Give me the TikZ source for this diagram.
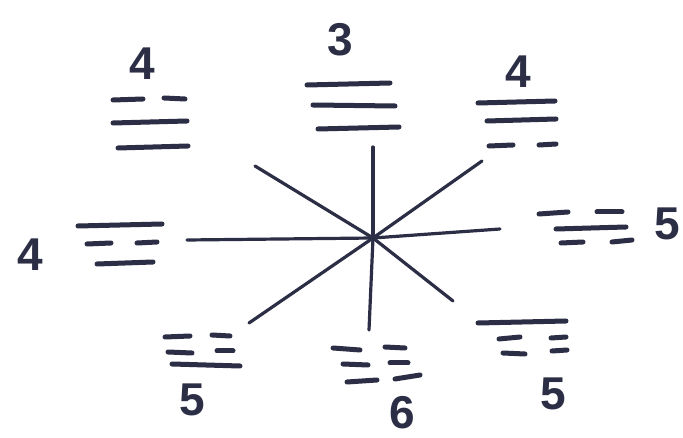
\documentclass[tikz,border=0pt]{standalone}
\usepackage{fontspec}
\setmainfont{Liberation Sans}
\begin{document}
\begin{tikzpicture}[x=1pt,y=-1pt,
  ink/.style={draw=inkc,line cap=round},
  bar/.style={ink,line width=5pt},
  ray/.style={ink,line width=3.2pt},
  num/.style={text=inkc,font=\fontsize{46}{46}\selectfont\bfseries,inner sep=0pt}]
\definecolor{inkc}{HTML}{2B2E44}
\useasboundingbox[fill=white] (0,0) rectangle (683,438);
% star
\coordinate (c) at (373,238);
\coordinate (pu) at (373,147);
\coordinate (pul) at (255,166);
\coordinate (pur) at (482,161);
\coordinate (pl) at (187,240);
\coordinate (pr) at (500,229);
\coordinate (pd) at (369,330);
\coordinate (pdl) at (249,323);
\coordinate (pdr) at (453,301);
\foreach \p in {pu,pul,pur,pl,pr,pd,pdl,pdr} \draw[ray] (c) -- (\p);
% top-left: broken, solid, solid
\node[num] (n1) at (142,64) {4};
\draw[bar] (113,100) -- (143,99); \draw[bar] (164,98) -- (185,99);
\draw[bar] (113,123) -- (187,121);
\draw[bar] (118,148) -- (188,146);
% top: solid x3
\node[num] (n2) at (340,40) {3};
\draw[bar] (307,85) -- (390,83);
\draw[bar] (313,105) -- (395,106);
\draw[bar] (318,129) -- (399,127);
% top-right: solid, solid, broken
\node[num] (n3) at (518,72) {4};
\draw[bar] (478,103) -- (555,101);
\draw[bar] (487,121) -- (556,119);
\draw[bar] (489,146) -- (513,145); \draw[bar] (539,145) -- (556,144);
% left: solid, broken, solid
\node[num] (n4) at (30,255) {4};
\draw[bar] (78,226) -- (162,224);
\draw[bar] (87,244) -- (111,243); \draw[bar] (137,243) -- (157,242);
\draw[bar] (97,264) -- (153,262);
% right: broken, solid, broken
\node[num] (n5) at (667,224) {5};
\draw[bar] (539,214) -- (568,212); \draw[bar] (597,212) -- (622,212);
\draw[bar] (556,229) -- (626,227);
\draw[bar] (561,243) -- (583,242); \draw[bar] (612,242) -- (632,240);
% lower-left: broken, broken, solid
\draw[bar] (165,337) -- (190,336); \draw[bar] (212,335) -- (230,336);
\draw[bar] (168,352) -- (192,353); \draw[bar] (217,351) -- (233,351);
\draw[bar] (172,364) -- (240,366);
\node[num] (n6) at (192,400) {5};
% bottom: broken x3
\draw[bar] (333,348) -- (360,350); \draw[bar] (385,347) -- (405,348);
\draw[bar] (343,364) -- (368,365); \draw[bar] (390,363) -- (408,363);
\draw[bar] (347,382) -- (377,380); \draw[bar] (395,379) -- (420,375);
\node[num] (n7) at (402,413) {6};
% lower-right: solid, broken, broken
\draw[bar] (478,323) -- (566,321);
\draw[bar] (499,339) -- (520,337); \draw[bar] (551,338) -- (566,337);
\draw[bar] (503,353) -- (525,354); \draw[bar] (552,351) -- (567,350);
\node[num] (n8) at (553,394) {5};
\end{tikzpicture}
\end{document}
